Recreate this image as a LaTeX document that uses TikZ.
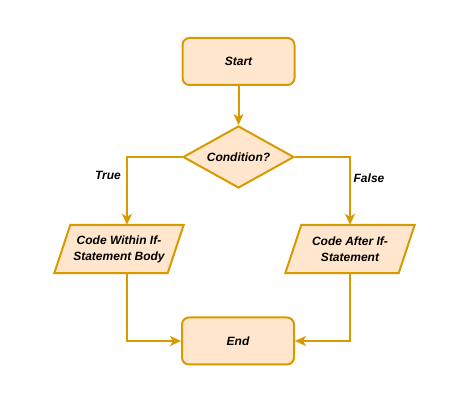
\documentclass[tikz,border=0pt]{standalone}
\usepackage{fontspec}
\setmainfont{Liberation Sans}
\usetikzlibrary{arrows.meta,shapes.geometric,backgrounds}
\definecolor{fc}{HTML}{FFE6CC}
\definecolor{sc}{HTML}{D79B00}
\begin{document}
\begin{tikzpicture}[x=1pt,y=1pt,
  txt/.style={font=\fontsize{12}{16}\selectfont\bfseries\itshape, align=center, text=black},
  rbox/.style={txt, draw=sc, fill=fc, line width=2pt, rounded corners=7pt, minimum width=112pt, minimum height=47pt},
  dia/.style={txt, draw=sc, fill=fc, line width=2pt, diamond, aspect=1.8, minimum width=111pt, minimum height=62pt, inner sep=0pt},
  para/.style={txt, minimum width=129pt, minimum height=48pt, inner sep=0pt},
  pshape/.style={draw=sc, fill=fc, line width=2pt, line join=miter},
  conn/.style={draw=sc, line width=2pt, -{Stealth[length=11pt,width=10pt,inset=3pt]}},
  lbl/.style={txt}
]
\useasboundingbox (0,0) rectangle (476,409);
\node[rbox] (start) at (238.5,347.5) {Start};
\node[dia] (cond) at (238.5,252) {Condition?};
\node[para] (lp) at (119,160) {Code Within If-\\Statement Body};
\node[para] (rp) at (350,160) {Code After If-\\Statement};
\node[rbox] (end) at (238,68) {End};
\begin{scope}[on background layer]
\draw[pshape] ([xshift=16pt]lp.north west) -- (lp.north east) -- ([xshift=-16pt]lp.south east) -- (lp.south west) -- cycle;
\draw[pshape] ([xshift=16pt]rp.north west) -- (rp.north east) -- ([xshift=-16pt]rp.south east) -- (rp.south west) -- cycle;
\end{scope}
\node[lbl] (t) at (108,234) {True};
\node[lbl] (f) at (369,231) {False};
\draw[conn] (start.south) -- (cond.north);
\draw[conn] (cond.west) -| ([xshift=8pt]lp.north);
\draw[conn] (cond.east) -| (rp.north);
\draw[conn] ([xshift=8pt]lp.south) |- (end.west);
\draw[conn] (rp.south) |- (end.east);
\end{tikzpicture}
\end{document}
